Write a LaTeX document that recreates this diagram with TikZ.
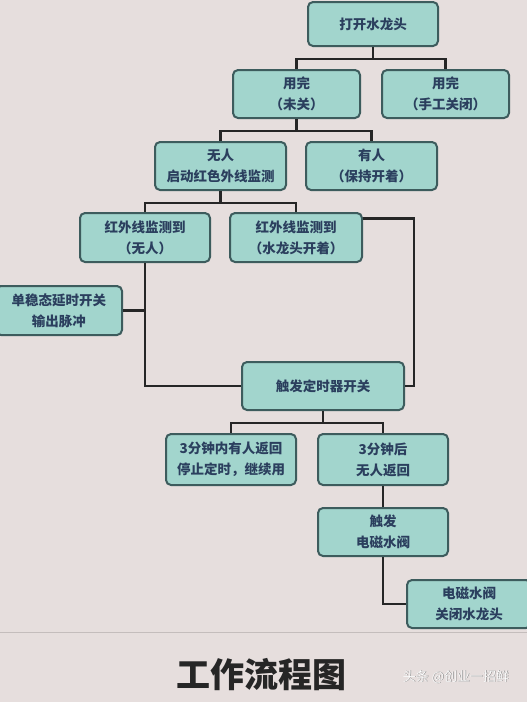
\documentclass[tikz,border=0pt]{standalone}
\usepackage{fontspec}
\setmainfont{Noto Sans CJK SC}
\usetikzlibrary{calc}

\definecolor{paper}{HTML}{E6DEDD}
\definecolor{boxfill}{HTML}{A2D5CD}
\definecolor{boxline}{HTML}{3D5C5D}
\definecolor{boxtext}{HTML}{2B3F5E}

\tikzset{
  flowbox/.style={draw=boxline, line width=2pt, fill=boxfill,
    rounded corners=5pt, align=center, text=boxtext, inner sep=0pt,
    font=\bfseries\fontsize{13.5}{21}\selectfont},
  link/.style={draw=black!85, line width=2.4pt}
}

\begin{document}
\begin{tikzpicture}[x=1pt, y=-1pt]
    \useasboundingbox (0,0) rectangle (527,702);
    \fill[paper] (0,0) rectangle (527,702);
    \draw[paper!85!black, line width=0.6pt] (0,632) -- (527,632);

    % boxes
    \node[flowbox, minimum width=130pt, minimum height=44pt] (open)
      at (373,24) {打开水龙头};
    \node[flowbox, minimum width=127pt, minimum height=48pt] (used)
      at (296.5,94) {用完\\（未关）};
    \node[flowbox, minimum width=127pt, minimum height=48pt] (manual)
      at (445.5,94) {用完\\（手工关闭）};
    \node[flowbox, minimum width=131pt, minimum height=48pt] (nobody)
      at (220.5,166) {无人\\启动红色外线监测};
    \node[flowbox, minimum width=131pt, minimum height=48pt] (somebody)
      at (371.5,166) {有人\\（保持开着）};
    \node[flowbox, minimum width=130pt, minimum height=49pt] (irnone)
      at (145,237.5) {红外线监测到\\（无人）};
    \node[flowbox, minimum width=132pt, minimum height=49pt] (iropen)
      at (296,237.5) {红外线监测到\\（水龙头开着）};
    \node[flowbox, minimum width=126pt, minimum height=49pt] (mono)
      at (59,310.5) {单稳态延时开关\\输出脉冲};
    \node[flowbox, minimum width=162pt, minimum height=48pt] (timer)
      at (323,386) {触发定时器开关};
    \node[flowbox, minimum width=130pt, minimum height=51pt] (inthree)
      at (231,459.5) {3分钟内有人返回\\停止定时，继续用};
    \node[flowbox, minimum width=130pt, minimum height=51pt] (afterthree)
      at (383,459.5) {3分钟后\\无人返回};
    \node[flowbox, minimum width=130pt, minimum height=48pt] (valve)
      at (383,532) {触发\\电磁水阀};
    \node[flowbox, minimum width=124pt, minimum height=48pt] (close)
      at (469,604) {电磁水阀\\关闭水龙头};

    % connectors
    \draw[link] (open.south) -- ++(0,12) -| (used.north);
    \draw[link] (open.south) -- ++(0,12) -| (manual.north);
    \draw[link] (used.south) -- ++(0,12) -| (nobody.north);
    \draw[link] (used.south) -- ++(0,12) -| (somebody.north);
    \draw[link] (nobody.south) -- ++(0,12) -| (irnone.north);
    \draw[link] (nobody.south) -- ++(0,12) -| (iropen.north);
    \draw[link] (irnone.south) |- (timer.west);
    \draw[link] (mono.east) -- (mono.east -| irnone.south);
    \draw[link] ([yshift=19pt]iropen.east) -- ++(51,0) |- (timer.east);
    \draw[link] (timer.south) -- ++(0,12) -| (inthree.north);
    \draw[link] (timer.south) -- ++(0,12) -| (afterthree.north);
    \draw[link] (afterthree.south) -- (valve.north);
    \draw[link] (valve.south) |- (close.west);

    \node[font=\bfseries\fontsize{34}{34}\selectfont, text=black!85] (title)
      at (261,675) {工作流程图};
    \node[font=\fontsize{13}{13}\selectfont, text=black!55] (markshade)
      at (456.6,677.6) {头条 @创业一招鲜};
    \node[font=\fontsize{13}{13}\selectfont, text=white] (mark)
      at (456,677) {头条 @创业一招鲜};
  \end{tikzpicture}
\end{document}
